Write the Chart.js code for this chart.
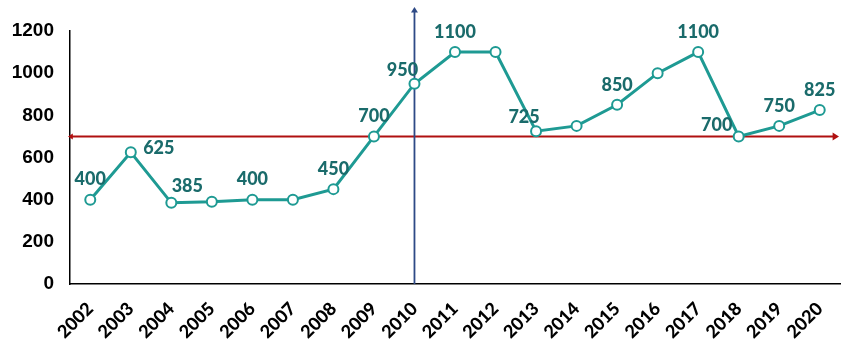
<!DOCTYPE html>
<html>
<head>
<meta charset="utf-8">
<script src="https://cdn.jsdelivr.net/npm/chart.js@4/dist/chart.umd.min.js"></script>
<style>
html,body{margin:0;padding:0;background:#fff;}
#wrap{width:851px;height:353px;position:relative;}
</style>
</head>
<body>
<div id="wrap"><canvas id="c" width="851" height="353"></canvas></div>
<script>
const years = ['2002','2003','2004','2005','2006','2007','2008','2009','2010','2011','2012','2013','2014','2015','2016','2017','2018','2019','2020'];
const values = [400,625,385,390,400,400,450,700,950,1100,1100,725,750,850,1000,1100,700,750,825];
const labelShown = [true,true,true,false,true,false,true,true,true,true,false,true,false,true,false,true,true,true,true];
const labelPlacement = ['a','r','ar','a','a','a','a','a','al','a','a','al','a','a','a','a','l','a','a'];
const yTicks = [0,200,400,600,800,1000,1200];
const thresholdValue = 700;
const markerYear = '2010';

const TEAL = '#1E9A93';
const LABEL = '#1A6B6B';
const FONT = 'Lato, "Open Sans", sans-serif';

const offsets = {a:[0,-20], r:[28,-4], ar:[16,-17], al:[-12,-14], l:[-22,-11]};

function arrow(ctx, x, y, dir, size){
  ctx.beginPath();
  if(dir==='right'){ ctx.moveTo(x,y); ctx.lineTo(x-size*1.6,y-size); ctx.lineTo(x-size*1.6,y+size); }
  else if(dir==='left'){ ctx.moveTo(x,y); ctx.lineTo(x+size*1.6,y-size); ctx.lineTo(x+size*1.6,y+size); }
  else if(dir==='up'){ ctx.moveTo(x,y); ctx.lineTo(x-size,y+size*1.6); ctx.lineTo(x+size,y+size*1.6); }
  ctx.closePath(); ctx.fill();
}

const refLines = {
  id:'refLines',
  beforeDatasetsDraw(chart){
    const {ctx, chartArea:a, scales:{x,y}} = chart;
    ctx.save();
    const yy = y.getPixelForValue(thresholdValue);
    ctx.strokeStyle = '#B01010'; ctx.fillStyle = '#B01010'; ctx.lineWidth = 2;
    ctx.beginPath(); ctx.moveTo(a.left, yy); ctx.lineTo(a.right-4, yy); ctx.stroke();
    arrow(ctx, a.right-1, yy, 'right', 4);
    arrow(ctx, a.left-2, yy, 'left', 3);
    const xx = x.getPixelForValue(years.indexOf(markerYear));
    ctx.strokeStyle = '#2E4A86'; ctx.fillStyle = '#2E4A86'; ctx.lineWidth = 1.8;
    ctx.beginPath(); ctx.moveTo(xx, a.bottom); ctx.lineTo(xx, 12); ctx.stroke();
    arrow(ctx, xx, 7, 'up', 3.5);
    ctx.restore();
  }
};

const valueLabels = {
  id:'valueLabels',
  afterDatasetsDraw(chart){
    const {ctx} = chart;
    const meta = chart.getDatasetMeta(0);
    ctx.save();
    ctx.font = '900 18px ' + FONT;
    ctx.fillStyle = LABEL;
    ctx.textAlign = 'center'; ctx.textBaseline = 'middle';
    meta.data.forEach((pt,i)=>{
      if(!labelShown[i]) return;
      const o = offsets[labelPlacement[i]];
      ctx.fillText(String(values[i]), pt.x + o[0], pt.y + o[1]);
    });
    ctx.restore();
  }
};

new Chart(document.getElementById('c'), {
  type:'line',
  data:{
    labels: years,
    datasets:[{
      data: values,
      borderColor: TEAL,
      borderWidth: 3,
      pointRadius: 5,
      pointBorderWidth: 2,
      pointBackgroundColor: '#ffffff',
      pointBorderColor: TEAL,
      tension: 0,
      fill: false
    }]
  },
  options:{
    responsive:false,
    animation:false,
    devicePixelRatio:1,
    layout:{padding:{top:31,right:11,left:0,bottom:0}},
    plugins:{legend:{display:false}, tooltip:{enabled:false}},
    scales:{
      x:{
        offset:true,
        grid:{display:false, drawTicks:false},
        border:{display:true, color:'#000', width:1.5},
        ticks:{color:'#000', font:{family:FONT, size:18, weight:'900'}, maxRotation:45, minRotation:45, padding:14, autoSkip:false},
        afterFit(s){ s.height = 69; }
      },
      y:{
        min:0, max:1200,
        afterBuildTicks(s){ s.ticks = yTicks.map(v=>({value:v})); },
        grid:{display:false, drawTicks:false},
        border:{display:true, color:'#000', width:1.5},
        ticks:{color:'#000', font:{family:'"Liberation Sans", Arial, sans-serif', size:19, weight:'bold'}, padding:16,
          callback:(v)=>String(v)},
        afterFit(s){ s.width = 70; }
      }
    }
  },
  plugins:[refLines, valueLabels]
});
</script>
</body>
</html>
